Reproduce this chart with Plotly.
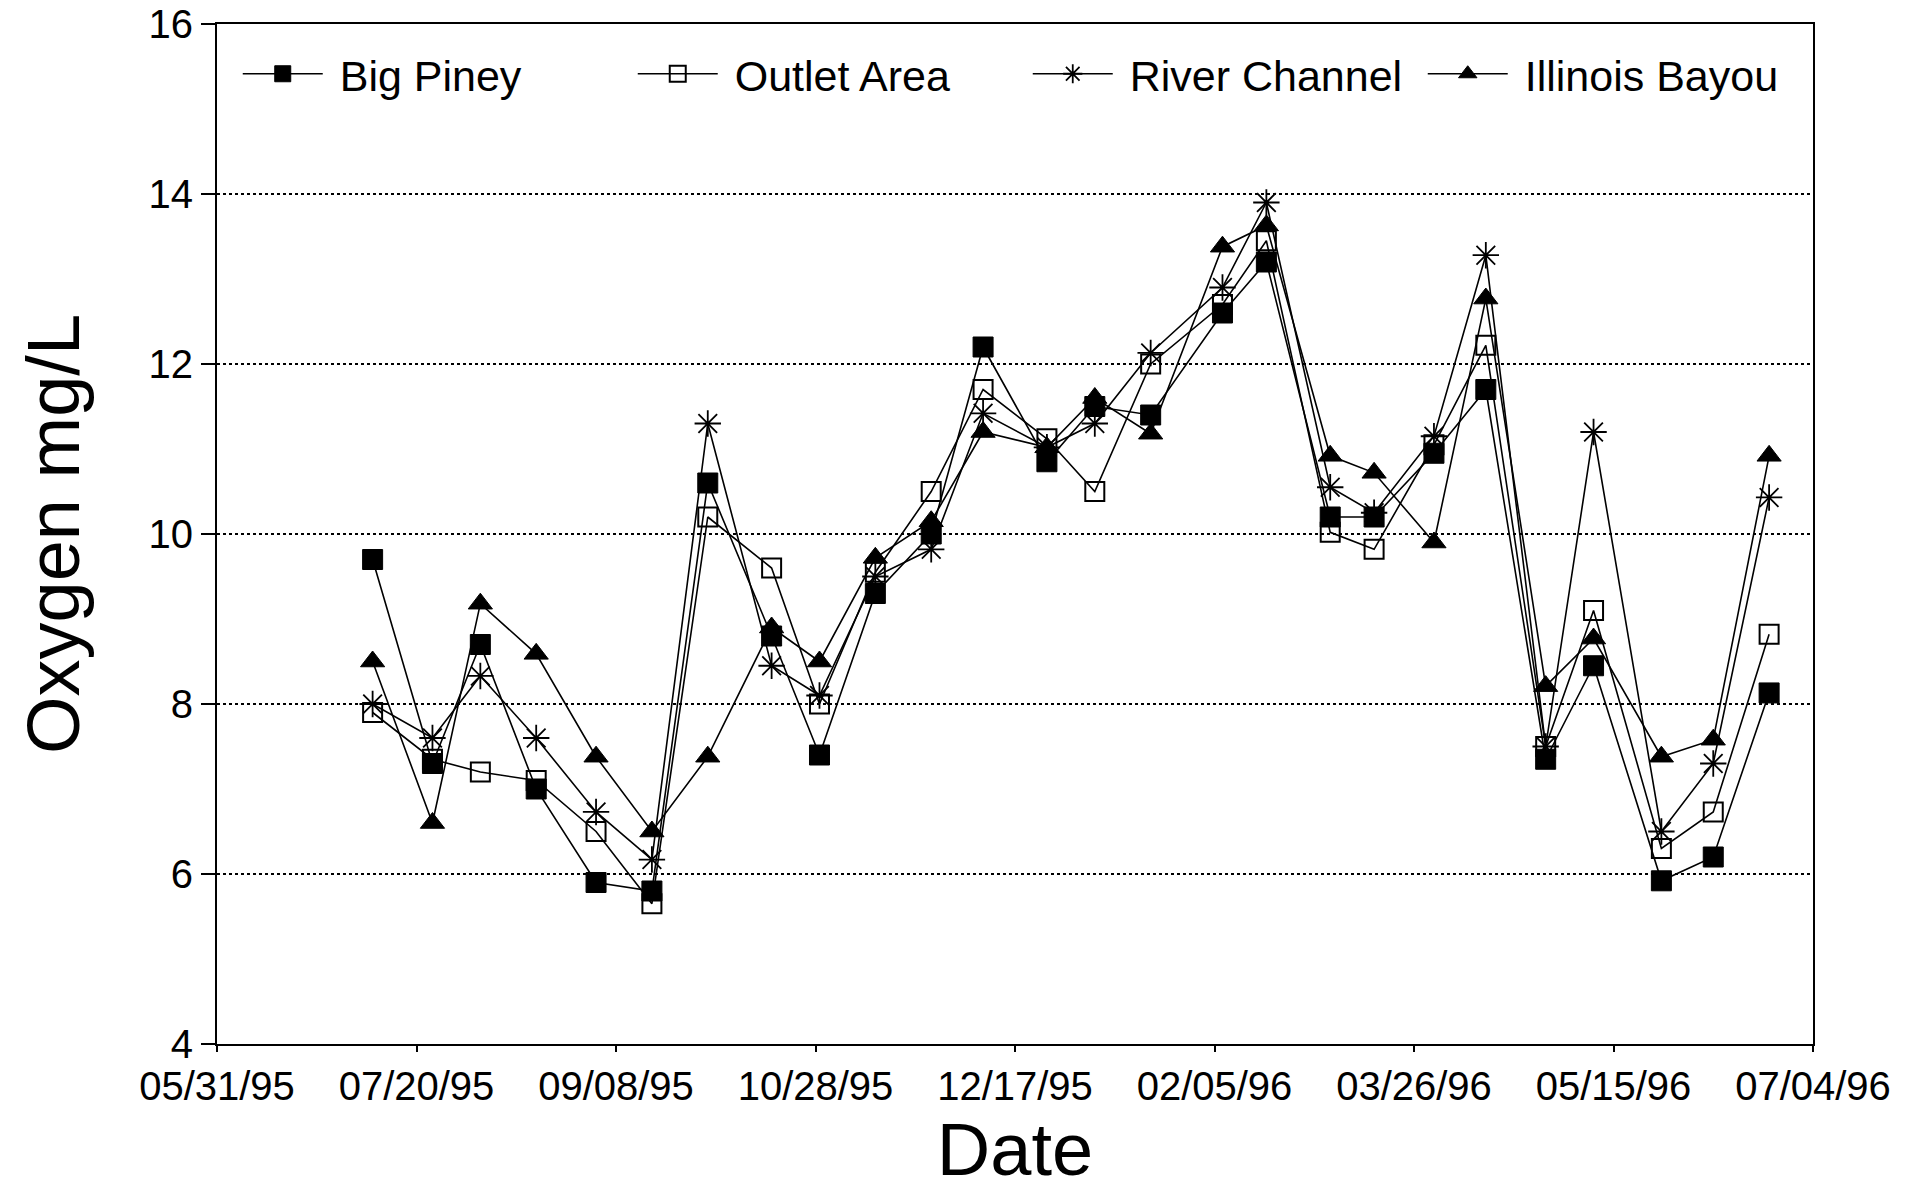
import plotly.graph_objects as go

dates = ["1995-07-09", "1995-07-24", "1995-08-05", "1995-08-19", "1995-09-03", "1995-09-17",
         "1995-10-01", "1995-10-17", "1995-10-29", "1995-11-12", "1995-11-26", "1995-12-09",
         "1995-12-25", "1996-01-06", "1996-01-20", "1996-02-07", "1996-02-18", "1996-03-05",
         "1996-03-16", "1996-03-31", "1996-04-13", "1996-04-28", "1996-05-10", "1996-05-27",
         "1996-06-09", "1996-06-23"]

big_piney = [9.7, 7.3, 8.7, 7.0, 5.9, 5.8, 10.6, 8.8, 7.4, 9.3, 10.0, 12.2, 10.85, 11.5, 11.4,
             12.6, 13.2, 10.2, 10.2, 10.95, 11.7, 7.35, 8.45, 5.92, 6.2, 8.13]
outlet_area = [7.9, 7.35, 7.2, 7.1, 6.5, 5.65, 10.2, 9.6, 8.0, 9.55, 10.5, 11.7, 11.12, 10.5, 12.0,
               12.7, 13.45, 10.02, 9.82, 11.05, 12.22, 7.5, 9.1, 6.3, 6.73, 8.82]
river_channel = [8.0, 7.6, 8.33, 7.6, 6.73, 6.17, 11.3, 8.45, 8.1, 9.5, 9.82, 11.42, 11.02, 11.3,
                 12.13, 12.9, 13.9, 10.55, 10.25, 11.15, 13.28, 7.5, 11.2, 6.5, 7.3, 10.43]
illinois_bayou = [8.5, 6.6, 9.18, 8.59, 7.38, 6.5, 7.38, 8.9, 8.5, 9.72, 10.15, 11.2, 11.02, 11.6,
                  11.18, 13.38, 13.63, 10.92, 10.72, 9.9, 12.77, 8.21, 8.77, 7.38, 7.58, 10.92]

x_tick_dates = ["1995-05-31", "1995-07-20", "1995-09-08", "1995-10-28", "1995-12-17",
                "1996-02-05", "1996-03-26", "1996-05-15", "1996-07-04"]
y_ticks = [4, 6, 8, 10, 12, 14, 16]

FONT = "Liberation Sans, Arial, sans-serif"
PAD = "\u00a0"

series = [
    ("Big Piney", big_piney, dict(symbol="square", size=20, color="black",
                                   line=dict(color="black", width=1))),
    ("Outlet Area", outlet_area, dict(symbol="square-open", size=19, color="black",
                                       line=dict(color="black", width=2))),
    ("River Channel", river_channel, dict(symbol="asterisk-open", size=22, color="black",
                                           line=dict(color="black", width=1.8))),
    ("Illinois Bayou", illinois_bayou, dict(symbol="triangle-up", size=21, color="black",
                                             line=dict(color="black", width=1))),
]

fig = go.Figure()
for name, vals, marker in series:
    fig.add_trace(go.Scatter(
        x=dates, y=vals, name=PAD + name, mode="lines+markers",
        line=dict(color="black", width=1.6),
        marker=marker,
    ))

fig.update_layout(
    width=1914, height=1191,
    margin=dict(l=217, r=101, t=24, b=147, autoexpand=False),
    paper_bgcolor="white", plot_bgcolor="white",
    font=dict(family=FONT, color="black", size=40),
    showlegend=True,
    legend=dict(
        orientation="h", x=0.013, y=0.985, xanchor="left", yanchor="top",
        font=dict(size=43, family=FONT, color="black"),
        bgcolor="rgba(0,0,0,0)", itemwidth=80,
        entrywidth=300, entrywidthmode="pixels",
        tracegroupgap=0,
    ),
)

fig.update_xaxes(
    type="date",
    range=["1995-05-31", "1996-07-04"],
    tickvals=x_tick_dates,
    tickformat="%m/%d/%y",
    showgrid=False, zeroline=False, automargin=True,
    showline=True, linecolor="black", linewidth=2, mirror=True,
    ticks="outside", ticklen=6, tickwidth=1.5, tickcolor="black",
    tickfont=dict(size=40, family=FONT),
    title=dict(text="Date", font=dict(size=74, family=FONT), standoff=26),
)

fig.update_yaxes(
    range=[4, 16],
    tickvals=y_ticks,
    showgrid=True, gridcolor="black", gridwidth=1.5, griddash="dot",
    zeroline=False, automargin=False,
    showline=True, linecolor="black", linewidth=2, mirror=True,
    ticks="outside", ticklen=14, tickwidth=1.5, tickcolor="black",
    tickfont=dict(size=40, family=FONT),
    title=dict(text="Oxygen mg/L", font=dict(size=74, family=FONT), standoff=45),
)

fig.write_html("out.html")
